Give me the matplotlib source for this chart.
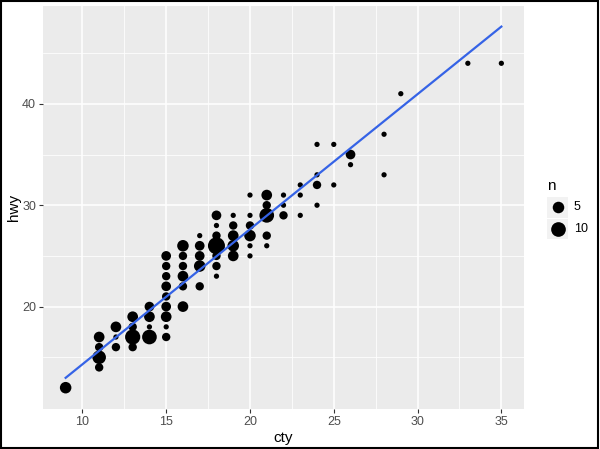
import numpy as np
import matplotlib
matplotlib.use("Agg")
import matplotlib.pyplot as plt
from matplotlib.patches import Rectangle

# counts of (cty, hwy) pairs
cty = [9,
       11, 11, 11, 11,
       12, 12, 12,
       13, 13, 13, 13,
       14, 14, 14, 14,
       15, 15, 15, 15, 15, 15, 15, 15, 15,
       16, 16, 16, 16, 16, 16,
       17, 17, 17, 17, 17,
       18, 18, 18, 18, 18, 18, 18,
       19, 19, 19, 19, 19,
       20, 20, 20, 20, 20, 20,
       21, 21, 21, 21, 21,
       22, 22, 22,
       23, 23, 23,
       24, 24, 24, 24,
       25, 25,
       26, 26,
       28, 28,
       29,
       33,
       35]
hwy = [12,
       17, 16, 15, 14,
       18, 17, 16,
       19, 18, 17, 16,
       20, 19, 18, 17,
       25, 24, 23, 22, 21, 20, 19, 18, 17,
       26, 25, 24, 23, 22, 20,
       27, 26, 25, 24, 22,
       29, 28, 27, 26, 25, 24, 23,
       29, 28, 27, 26, 25,
       31, 29, 28, 27, 26, 25,
       31, 30, 29, 27, 26,
       31, 30, 29,
       32, 31, 29,
       36, 33, 32, 30,
       36, 32,
       35, 34,
       37, 33,
       41,
       44,
       44]
n = [5,
     4, 2, 8, 2,
     4, 1, 2,
     4, 2, 11, 2,
     3, 4, 1, 10,
     3, 2, 2, 3, 2, 3, 4, 1, 2,
     5, 2, 2, 4, 2, 4,
     1, 3, 3, 5, 2,
     3, 1, 2, 15, 2, 2, 1,
     1, 2, 4, 5, 4,
     1, 1, 2, 5, 1, 1,
     4, 2, 10, 2, 1,
     1, 1, 2,
     1, 1, 1,
     1, 1, 2, 1,
     1, 1,
     3, 1,
     1, 1,
     1,
     1,
     1]

cty = np.array(cty)
hwy = np.array(hwy)
n = np.array(n)

# ggplot-like area scale for size: range 1..6
def size_of(v):
    return 1 + 5 * np.sqrt((v - n.min()) / (n.max() - n.min()))

def diam_pt(v):
    px = 2.35 * size_of(v) + 2.9
    return px * 0.72

fig = plt.figure(figsize=(6, 4.49), dpi=100)
ax = fig.add_axes([0.0717, 0.088, 0.8016, 0.8986])
ax.set_facecolor("#EBEBEB")
for s in ax.spines.values():
    s.set_visible(False)

ax.set_xlim(7.65, 36.35)
ax.set_ylim(9.85, 49.65)
ax.set_xticks([10, 15, 20, 25, 30, 35])
ax.set_yticks([20, 30, 40])
ax.set_xticks(np.arange(12.5, 36, 5), minor=True)
ax.set_yticks([15, 25, 35, 45], minor=True)
ax.grid(True, which="major", color="white", linewidth=1.1)
ax.grid(True, which="minor", color="white", linewidth=0.55)
ax.set_axisbelow(True)
ax.tick_params(which="major", length=3, width=0.8, color="#333333",
               labelsize=9, labelcolor="#4D4D4D", pad=2)
ax.tick_params(which="minor", length=0)
for lab in ax.get_xticklabels() + ax.get_yticklabels():
    lab.set_fontfamily("Liberation Sans")

ax.scatter(cty, hwy, s=diam_pt(n) ** 2, color="black", linewidths=0, zorder=3)

# linear fit on expanded data
xs = np.repeat(cty, n)
ys = np.repeat(hwy, n)
b, a = np.polyfit(xs, ys, 1)
xl = np.array([cty.min(), cty.max()])
ax.plot(xl, a + b * xl, color="#3563E6", linewidth=1.6, zorder=4)

ax.set_xlabel("cty", fontsize=11, family="Liberation Sans", labelpad=2)
ax.set_ylabel("hwy", fontsize=11, family="Liberation Sans", labelpad=1)

# legend drawn in figure pixels
fig.text(547 / 600, 1 - 186 / 449, "n", fontsize=11, family="Liberation Sans",
         ha="left", va="center")
for val, yc in [(5, 207), (10, 229)]:
    fig.patches.append(Rectangle(((547) / 600, 1 - (yc + 10.5) / 449), 21 / 600, 21 / 449,
                                 transform=fig.transFigure, facecolor="#F2F2F2",
                                 edgecolor="none"))
    fig.add_artist(plt.Line2D([557.5 / 600], [1 - yc / 449], marker="o", markersize=diam_pt(val),
                              color="black", markeredgewidth=0, transform=fig.transFigure))
    fig.text(574 / 600, 1 - yc / 449, str(val), fontsize=9, family="Liberation Sans",
             ha="left", va="center")

# outer frame
fig.patches.append(Rectangle((0.002, 0.003), 0.995, 0.994, transform=fig.transFigure,
                             facecolor="none", edgecolor="black", linewidth=1.5))

fig.savefig("out.png", dpi=100)
